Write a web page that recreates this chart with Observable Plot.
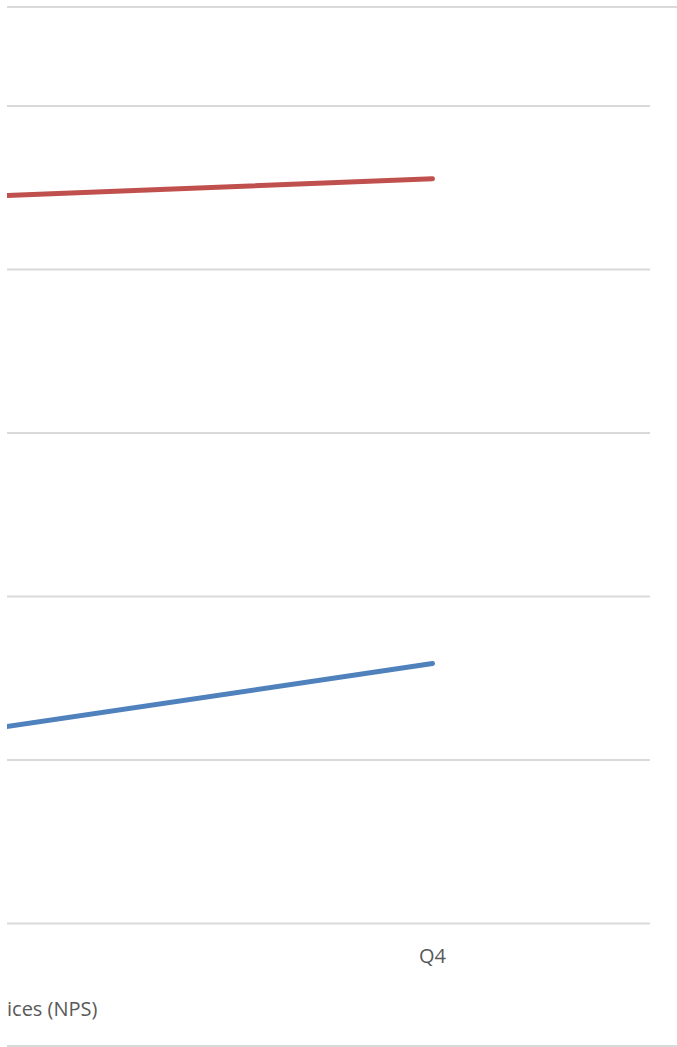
<!DOCTYPE html>
<html>
<head>
<meta charset="utf-8">
<script src="https://cdn.jsdelivr.net/npm/d3@7"></script>
<script src="https://cdn.jsdelivr.net/npm/@observablehq/plot@0.6"></script>
<style>
  html, body { margin: 0; padding: 0; background: #fff; }
  #wrap {
    position: absolute; left: 7px; top: 6px; width: 670px;
    border-top: 2px solid #d9d9d9; border-bottom: 2px solid #d9d9d9;
    overflow: hidden;
  }
  #chart svg { display: block; overflow: visible; }
  #legend {
    height: 67px; box-sizing: border-box; padding-top: 17px;
    font-family: "Open Sans", sans-serif; font-size: 20px; line-height: 27px;
    color: #595959; white-space: nowrap;
  }
</style>
</head>
<body>
<div id="wrap">
  <div id="chart"></div>
  <div id="legend"></div>
</div>
<script>
// Categories (Q3 lies just left of the cropped view)
const quarters = ["Q3", "Q4"];
const visibleTickLabels = ["Q4"];
// Series values (value axis assumed 0–100)
const seriesNames = ["Series A", "Series B"];
const seriesA = [89.0, 91.1];
const seriesB = [23.9, 31.8];
const yTicks = [0, 20, 40, 60, 80, 100];
const legendText = "ices (NPS)";

const rows = [
  ...quarters.map((q, i) => ({q, v: seriesA[i], s: seriesNames[0]})),
  ...quarters.map((q, i) => ({q, v: seriesB[i], s: seriesNames[1]}))
];

const W = 670, H = 970;
const chart = Plot.plot({
  width: W,
  height: H,
  marginLeft: 0,
  marginRight: 27,
  marginTop: 97,
  marginBottom: H - 915,
  style: {fontFamily: "Open Sans, sans-serif", fontSize: "20px", color: "#595959", background: "transparent"},
  x: {type: "point", domain: quarters, range: [-11, 425], padding: 0, axis: null},
  y: {domain: [0, 100], range: [915, 97.5], axis: null},
  color: {domain: seriesNames, range: ["#C0504D", "#4F81BD"]},
  marks: [
    Plot.ruleY(yTicks, {stroke: "#d9d9d9", strokeWidth: 2}),
    Plot.line(rows, {x: "q", y: "v", z: "s", stroke: "s", strokeWidth: 5, strokeLinecap: "round"}),
    Plot.axisX({ticks: visibleTickLabels, tickSize: 0, tickPadding: 25, label: null, fill: "#595959", fontSize: 20})
  ]
});
document.getElementById("chart").appendChild(chart);
document.getElementById("legend").textContent = legendText;
</script>
</body>
</html>
